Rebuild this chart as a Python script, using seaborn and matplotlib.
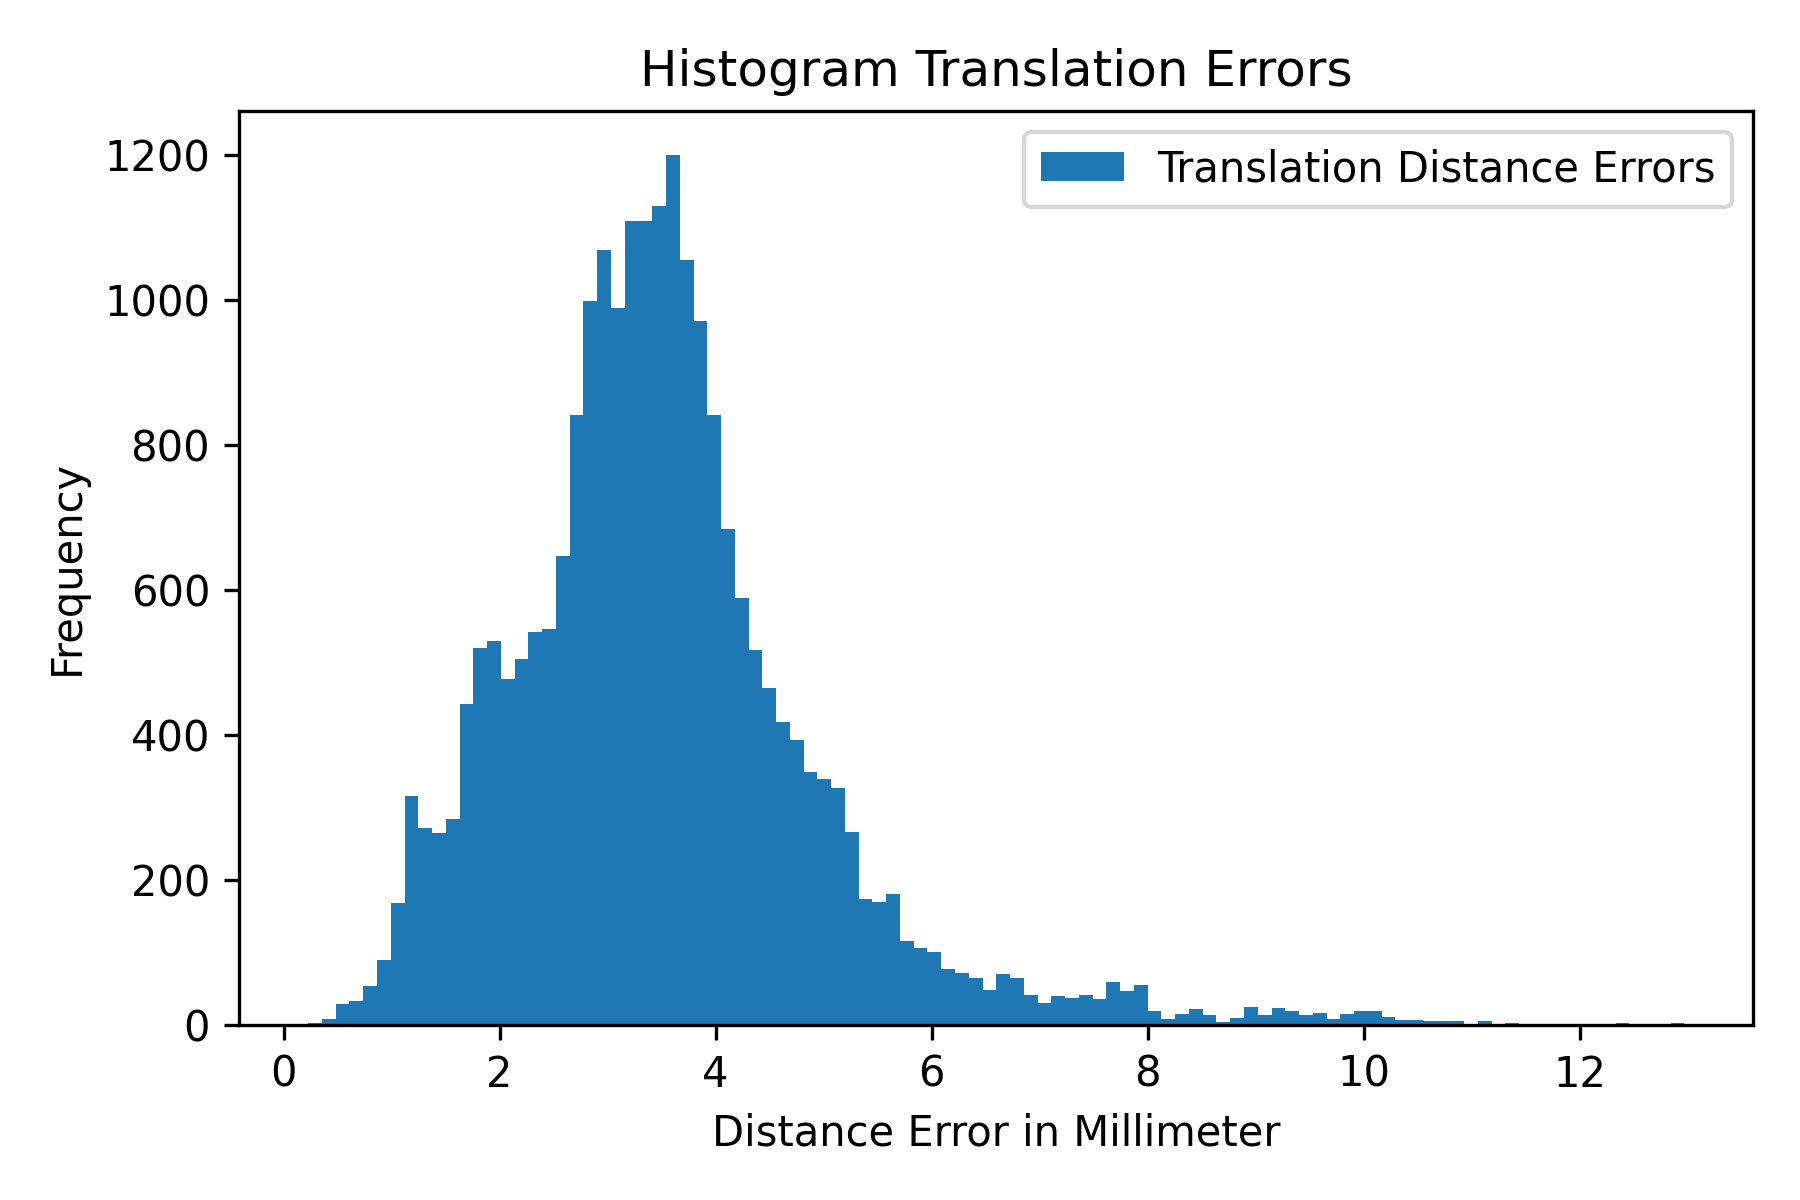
import numpy as np
import pandas as pd
import matplotlib
matplotlib.use("Agg")
import matplotlib.pyplot as plt
import seaborn as sns

# histogram: 100 equal bins from min to max error (mm)
bin_lo = 0.228
bin_hi = 12.97
counts = [
    3, 8, 29, 33, 53, 90, 168, 315, 272, 265,
    284, 443, 519, 529, 477, 505, 542, 546, 647, 841,
    998, 1068, 989, 1109, 1109, 1129, 1200, 1054, 971, 841,
    684, 589, 517, 464, 418, 393, 348, 339, 327, 266,
    173, 170, 180, 115, 106, 100, 77, 72, 64, 48,
    70, 64, 41, 30, 40, 37, 41, 35, 59, 46,
    55, 19, 8, 15, 22, 13, 4, 9, 24, 13,
    23, 19, 13, 16, 8, 15, 19, 19, 11, 6,
    6, 5, 5, 5, 1, 5, 0, 2, 0, 0,
    0, 0, 0, 0, 0, 2, 0, 0, 0, 2,
]

title = "Histogram Translation Errors"
x_label = "Distance Error in Millimeter"
y_label = "Frequency"
series_label = "Translation Distance Errors"

edges = np.linspace(bin_lo, bin_hi, len(counts) + 1)
df = pd.DataFrame({
    "error": (edges[:-1] + edges[1:]) / 2,
    "count": counts,
})

fig, ax = plt.subplots(figsize=(6, 4), dpi=300)
sns.histplot(
    data=df,
    x="error",
    weights="count",
    bins=len(counts),
    binrange=(bin_lo, bin_hi),
    color="#1f77b4",
    alpha=1,
    linewidth=0,
    label=series_label,
    ax=ax,
)
ax.set_title(title)
ax.set_xlabel(x_label)
ax.set_ylabel(y_label)
ax.legend(loc="upper right")
fig.subplots_adjust(left=0.133, right=0.974, top=0.9075, bottom=0.146)
fig.savefig("out.png", dpi=300)
plt.close(fig)
